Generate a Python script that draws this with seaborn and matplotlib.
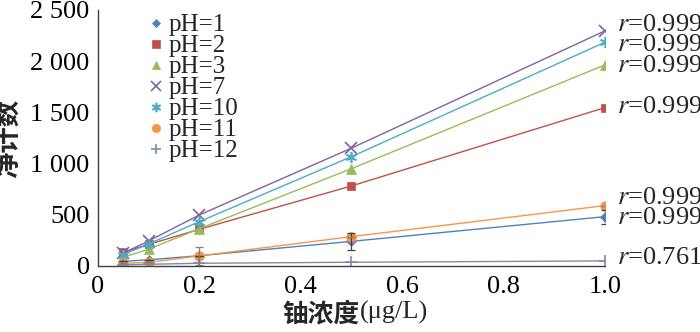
import numpy as np
import pandas as pd
import matplotlib
matplotlib.use("Agg")
import matplotlib.pyplot as plt
import seaborn as sns
from matplotlib.lines import Line2D
from matplotlib.ticker import FuncFormatter

# ---- data ----
conc = [0.05, 0.1, 0.2, 0.5, 1.0]
series_names = ["pH=1", "pH=2", "pH=3", "pH=7", "pH=10", "pH=11", "pH=12"]
ph1 = [45, 60, 100, 240, 481]
ph2 = [135, 210, 358, 781, 1546]
ph3 = [85, 163, 364, 950, 1963]
ph7 = [125, 244, 498, 1150, 2295]
ph10 = [110, 215, 433, 1067, 2184]
ph11 = [25, 35, 98, 286, 589]
ph12 = [10, 16, 26, 36, 49]
err_ph1 = [0, 0, 0, 80, 70]
err_ph11 = [0, 0, 85, 0, 0]
r_labels = ["r=0.999", "r=0.999", "r=0.999", "r=0.999", "r=0.999", "r=0.999", "r=0.761"]
r_label_y = [469, 1553, 1953, 2353, 2158, 664, 78]

colors = ["#4F81BD", "#C0504D", "#9BBB59", "#8064A2", "#4BACC6", "#F79646", "#7F8CA8"]
markers = ["D", "s", "^", "x", (6, 2, 0), "o", "+"]
msizes = [5, 6, 7, 8, 8, 7, 8]

values = [ph1, ph2, ph3, ph7, ph10, ph11, ph12]
rows = []
for name, vals in zip(series_names, values):
    for c, v in zip(conc, vals):
        rows.append({"conc": c, "count": v, "series": name})
df = pd.DataFrame(rows)

sns.set_style("white")
plt.rcParams["font.family"] = ["Liberation Serif", "Noto Sans CJK SC", "DejaVu Sans"]
plt.rcParams["mathtext.fontset"] = "stix"

fig = plt.figure(figsize=(7.0, 3.32), dpi=100)
ax = fig.add_axes([0.14, 0.199, 0.724, 0.771])

thin = ["x", "+", (6, 2, 0)]
for name, col, m, ms in zip(series_names, colors, markers, msizes):
    sub = df[df["series"] == name]
    sns.lineplot(data=sub, x="conc", y="count", color=col, marker=m, markersize=ms,
                 markeredgecolor=col, markeredgewidth=1.2 if m in thin else 0.5,
                 linewidth=1.0, ax=ax, legend=False, errorbar=None)

ax.errorbar(conc, ph1, yerr=err_ph1, fmt="none", ecolor="#404040", elinewidth=0.9, capsize=3, capthick=0.9)
ax.errorbar(conc, ph11, yerr=err_ph11, fmt="none", ecolor="#808080", elinewidth=0.9, capsize=3, capthick=0.9)

ax.set_xlim(0, 1.0)
ax.set_ylim(0, 2500)
ax.set_xticks([0, 0.2, 0.4, 0.6, 0.8, 1.0])
ax.set_yticks([0, 500, 1000, 1500, 2000, 2500])
ax.xaxis.set_major_formatter(FuncFormatter(lambda v, p: "0" if v == 0 else f"{v:.1f}"))
ax.yaxis.set_major_formatter(FuncFormatter(lambda v, p: f"{int(v):,}".replace(",", " ")))
ax.tick_params(direction="in", length=4, width=1, colors="#404040", labelcolor="black",
               labelsize=19)
ax.tick_params(axis="x", pad=7)
ax.tick_params(axis="y", pad=6)
for s in ["top", "right"]:
    ax.spines[s].set_visible(False)
for s in ["left", "bottom"]:
    ax.spines[s].set_color("#404040")
    ax.spines[s].set_linewidth(1.0)

ax.set_xlabel("")
ax.set_ylabel("净计数", fontsize=19, fontweight="bold",
              family=["Noto Sans CJK SC"], labelpad=2)
ax.yaxis.set_label_coords(-0.148, 0.5)

t1 = ax.text(0.517, -0.133, "铀浓度", transform=ax.transAxes, fontsize=18.5,
             fontweight="bold", family=["Noto Sans CJK SC"], ha="right", va="top")
ax.annotate("(μg/L)", xy=(1.0, 0.12), xycoords=t1, fontsize=19, ha="left", va="bottom",
            family=["Liberation Serif", "DejaVu Sans"])

for lab, yv in zip(r_labels, r_label_y):
    num = lab.split("=")[1]
    ax.text(1.024, yv, r"$r$=" + num, fontsize=19, va="center", ha="left", clip_on=False)

handles = [Line2D([], [], linestyle="none", marker=m, color=c, markersize=ms * 0.85,
                  markeredgewidth=1.2 if m in thin else 0.5)
           for m, c, ms in zip(markers, colors, msizes)]
leg = ax.legend(handles, series_names, loc="upper left", bbox_to_anchor=(0.103, 0.985),
                frameon=False, fontsize=18, handlelength=0.5, handletextpad=0.25,
                labelspacing=-0.06, borderaxespad=0, borderpad=0)

fig.savefig("out.png", dpi=100)
